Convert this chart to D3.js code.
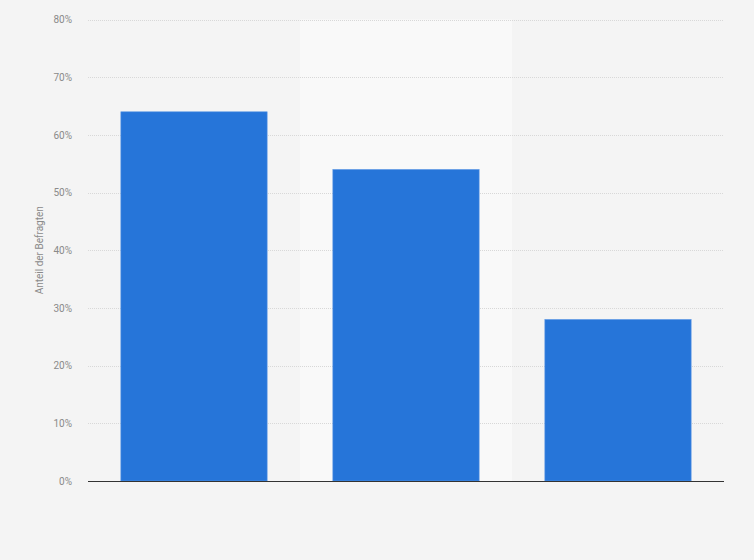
<!DOCTYPE html>
<html><head><meta charset="utf-8">
<script src="https://cdn.jsdelivr.net/npm/d3@7"></script>
<style>body{margin:0;background:#f4f4f4;}svg{display:block;font-family:Roboto, Arial, sans-serif;}</style>
</head><body><svg id="c" width="754" height="560"></svg>
<script>
const categories = ["A", "B", "C"];
const values = [64, 54, 28];
const yTicks = [0, 10, 20, 30, 40, 50, 60, 70, 80];
const yTitle = "Anteil der Befragten";

const svg = d3.select("#c");
const W = 754, H = 560;
const m = {left: 88, right: 30, top: 19.5, bottom: 79};
svg.append("rect").attr("width", W).attr("height", H).attr("fill", "#f4f4f4");

const x = d3.scaleBand().domain(categories).range([m.left, W - m.right]).padding(0);
const y = d3.scaleLinear().domain([0, 80]).range([H - m.bottom, m.top]);

// alternating bands
svg.selectAll("rect.band").data(categories).enter().append("rect")
  .attr("class", "band")
  .attr("x", d => x(d)).attr("y", m.top)
  .attr("width", x.bandwidth()).attr("height", y(0) - m.top)
  .attr("fill", (d, i) => i % 2 === 1 ? "#f9f9f9" : "none");

// grid
const grid = svg.append("g");
grid.selectAll("line").data(yTicks.filter(t => t > 0)).enter().append("line")
  .attr("x1", m.left).attr("x2", W - m.right)
  .attr("y1", d => Math.round(y(d)) + 0.5).attr("y2", d => Math.round(y(d)) + 0.5)
  .attr("stroke", "#d8d8d8").attr("stroke-dasharray", "1,1");

// y axis labels
const yAxis = d3.axisLeft(y).tickValues(yTicks).tickFormat(d => d + "%").tickSize(0).tickPadding(16);
const ga = svg.append("g").attr("transform", `translate(${m.left},0)`).call(yAxis);
ga.select(".domain").remove();
ga.selectAll("text").attr("fill", "#8a8a8a").style("font-size", "10px").style("font-family", "Roboto, Arial, sans-serif");

// bars
const bw = x.bandwidth() * 0.69;
svg.selectAll("rect.bar").data(values).enter().append("rect")
  .attr("class", "bar")
  .attr("x", (d, i) => x(categories[i]) + (x.bandwidth() - bw) / 2)
  .attr("y", d => y(d))
  .attr("width", bw)
  .attr("height", d => y(0) - y(d))
  .attr("fill", "#2675d9")
  .attr("stroke", "#5b97e4").attr("stroke-width", 0.6);

// baseline
svg.append("line").attr("x1", m.left).attr("x2", W - m.right)
  .attr("y1", y(0) + 0.5).attr("y2", y(0) + 0.5)
  .attr("stroke", "#333").attr("stroke-width", 1.2);

// y title
svg.append("text")
  .attr("transform", `translate(43,${(y(0) + y(80)) / 2}) rotate(-90)`)
  .attr("text-anchor", "middle")
  .attr("fill", "#8a8a8a").style("font-size", "10px")
  .text(yTitle);
</script></body></html>
